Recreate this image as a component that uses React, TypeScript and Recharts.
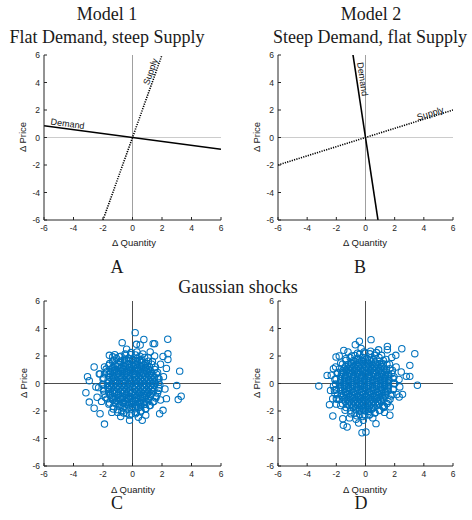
import React from "react";
import {
  ComposedChart,
  Line,
  Scatter,
  XAxis,
  YAxis,
  ReferenceLine,
  ReferenceDot,
} from "recharts";

const TICKS = [-6, -4, -2, 0, 2, 4, 6];
const AXIS = "#262626";
const BLUE = "#0072BD";

// Model 1: flat demand, steep supply
const demandA = [
  { x: -6, y: 0.857 },
  { x: 6, y: -0.857 },
];
const supplyA = [
  { x: -2, y: -6 },
  { x: 2, y: 6 },
];
// Model 2: steep demand, flat supply
const demandB = [
  { x: -0.857, y: 6 },
  { x: 0.857, y: -6 },
];
const supplyB = [
  { x: -6, y: -2 },
  { x: 6, y: 2 },
];

// Gaussian shocks, panel C
const coreC: [number, number][] = [
  [-0.55, 1.78], [-0.28, 1.84], [0.02, 1.76], [0.3, 1.82], [0.5, 1.7],
  [-1.05, 1.46], [-0.8, 1.55], [-0.52, 1.5], [-0.25, 1.43], [0.04, 1.52], [0.3, 1.47], [0.58, 1.56], [0.85, 1.45],
  [-1.32, 1.18], [-1.05, 1.24], [-0.78, 1.15], [-0.5, 1.22], [-0.22, 1.17], [0.06, 1.25], [0.33, 1.14], [0.6, 1.21], [0.88, 1.16], [1.12, 1.26],
  [-1.5, 0.88], [-1.22, 0.94], [-0.95, 0.86], [-0.68, 0.92], [-0.4, 0.85], [-0.12, 0.95], [0.15, 0.87], [0.42, 0.93], [0.7, 0.84], [0.97, 0.91], [1.25, 0.89],
  [-1.6, 0.62], [-1.33, 0.55], [-1.05, 0.64], [-0.78, 0.57], [-0.5, 0.63], [-0.23, 0.56], [0.05, 0.65], [0.32, 0.58], [0.6, 0.61], [0.87, 0.54], [1.14, 0.63], [1.4, 0.58],
  [-1.65, 0.28], [-1.38, 0.34], [-1.1, 0.26], [-0.82, 0.33], [-0.55, 0.27], [-0.27, 0.35], [0.0, 0.29], [0.27, 0.25], [0.55, 0.34], [0.82, 0.27], [1.1, 0.32], [1.38, 0.26],
  [-1.7, 0.02], [-1.42, -0.04], [-1.15, 0.05], [-0.87, -0.02], [-0.6, 0.04], [-0.32, -0.05], [-0.05, 0.03], [0.22, -0.03], [0.5, 0.05], [0.77, -0.04], [1.05, 0.02], [1.33, -0.02], [1.55, 0.04],
  [-1.68, -0.28], [-1.4, -0.34], [-1.12, -0.26], [-0.85, -0.33], [-0.57, -0.27], [-0.3, -0.35], [-0.02, -0.29], [0.25, -0.25], [0.53, -0.33], [0.8, -0.27], [1.08, -0.34], [1.35, -0.3],
  [-1.62, -0.58], [-1.35, -0.64], [-1.07, -0.56], [-0.8, -0.63], [-0.52, -0.57], [-0.25, -0.65], [0.03, -0.59], [0.3, -0.55], [0.58, -0.63], [0.85, -0.57], [1.12, -0.62], [1.38, -0.6],
  [-1.52, -0.88], [-1.25, -0.94], [-0.97, -0.86], [-0.7, -0.93], [-0.42, -0.87], [-0.15, -0.95], [0.13, -0.89], [0.4, -0.85], [0.68, -0.93], [0.95, -0.87], [1.22, -0.92],
  [-1.35, -1.18], [-1.08, -1.25], [-0.8, -1.16], [-0.52, -1.23], [-0.25, -1.17], [0.03, -1.25], [0.3, -1.15], [0.58, -1.22], [0.85, -1.18], [1.1, -1.24],
  [-1.12, -1.47], [-0.85, -1.55], [-0.58, -1.46], [-0.3, -1.53], [-0.03, -1.48], [0.25, -1.55], [0.52, -1.46], [0.8, -1.52],
  [-0.65, -1.78], [-0.38, -1.85], [-0.1, -1.76], [0.18, -1.83], [0.42, -1.74],
];
const innerC: [number, number][] = [
  [-0.8, 1.63], [-0.52, 1.68], [-0.24, 1.62], [0.04, 1.67], [0.32, 1.64], [0.6, 1.69],
  [-1.18, 1.33], [-0.9, 1.38], [-0.62, 1.32], [-0.34, 1.37], [-0.06, 1.34], [0.22, 1.39], [0.5, 1.31], [0.78, 1.36], [1.0, 1.33],
  [-1.4, 1.07], [-1.12, 1.02], [-0.84, 1.08], [-0.56, 1.03], [-0.28, 1.06], [0.0, 1.01], [0.28, 1.08], [0.56, 1.04], [0.84, 1.07], [1.12, 1.02],
  [-1.52, 0.73], [-1.24, 0.78], [-0.96, 0.72], [-0.68, 0.77], [-0.4, 0.74], [-0.12, 0.79], [0.16, 0.71], [0.44, 0.76], [0.72, 0.73], [1.0, 0.78], [1.28, 0.74],
  [-1.56, 0.47], [-1.28, 0.42], [-1.0, 0.48], [-0.72, 0.43], [-0.44, 0.46], [-0.16, 0.41], [0.12, 0.48], [0.4, 0.44], [0.68, 0.47], [0.96, 0.42], [1.24, 0.46], [1.48, 0.43],
  [-1.58, 0.13], [-1.3, 0.18], [-1.02, 0.12], [-0.74, 0.17], [-0.46, 0.14], [-0.18, 0.19], [0.1, 0.11], [0.38, 0.16], [0.66, 0.13], [0.94, 0.18], [1.22, 0.14], [1.46, 0.17],
  [-1.56, -0.17], [-1.28, -0.12], [-1.0, -0.18], [-0.72, -0.13], [-0.44, -0.16], [-0.16, -0.11], [0.12, -0.18], [0.4, -0.14], [0.68, -0.17], [0.96, -0.12], [1.24, -0.16], [1.48, -0.13],
  [-1.54, -0.43], [-1.26, -0.48], [-0.98, -0.42], [-0.7, -0.47], [-0.42, -0.44], [-0.14, -0.49], [0.14, -0.41], [0.42, -0.46], [0.7, -0.43], [0.98, -0.48], [1.26, -0.44], [1.46, -0.47],
  [-1.5, -0.77], [-1.22, -0.72], [-0.94, -0.78], [-0.66, -0.73], [-0.38, -0.76], [-0.1, -0.71], [0.18, -0.78], [0.46, -0.74], [0.74, -0.77], [1.02, -0.72], [1.28, -0.76],
  [-1.4, -1.03], [-1.12, -1.08], [-0.84, -1.02], [-0.56, -1.07], [-0.28, -1.04], [0.0, -1.09], [0.28, -1.01], [0.56, -1.06], [0.84, -1.03], [1.1, -1.08],
  [-1.2, -1.37], [-0.92, -1.32], [-0.64, -1.38], [-0.36, -1.33], [-0.08, -1.36], [0.2, -1.31], [0.48, -1.38], [0.76, -1.34], [0.98, -1.36],
  [-0.84, -1.63], [-0.56, -1.68], [-0.28, -1.62], [0.0, -1.67], [0.28, -1.64], [0.56, -1.69],
];
const edgeC: [number, number][] = [
  [1.78, 0.08], [1.74, 0.4], [1.62, 0.7], [1.5, 1.02], [1.3, 1.4], [1.08, 1.62], [0.82, 1.9], [0.5, 1.98], [0.2, 2.08],
  [-0.12, 2.1], [-0.45, 2.06], [-0.78, 1.98], [-1.08, 1.82], [-1.35, 1.6], [-1.6, 1.32], [-1.78, 1.05], [-1.9, 0.7], [-2.0, 0.35],
  [-2.02, -0.05], [-1.98, -0.4], [-1.92, -0.78], [-1.72, -1.12], [-1.55, -1.42], [-1.3, -1.68], [-1.02, -1.9], [-0.72, -2.05], [-0.4, -2.16],
  [-0.08, -2.2], [0.26, -2.1], [0.58, -1.98], [0.88, -1.82], [1.15, -1.6], [1.38, -1.34], [1.58, -1.05], [1.7, -0.7], [1.8, -0.35],
];
const fringeC: [number, number][] = [
  [-1.9, 1.2], [-1.75, 0.85], [-1.95, 0.4], [-2.0, -0.1], [-1.95, -0.55], [-1.85, -1.0], [-1.6, -1.5], [-1.3, -1.85],
  [-1.0, -2.1], [-0.6, -2.15], [-0.2, -2.3], [0.2, -2.2], [0.55, -2.05], [0.9, -1.85], [1.2, -1.6], [1.45, -1.3],
  [1.6, -0.95], [1.75, -0.5], [1.85, -0.1], [1.8, 0.35], [1.7, 0.8], [1.55, 1.2], [1.35, 1.6], [1.05, 1.9],
  [0.7, 2.15], [0.3, 2.3], [-0.1, 2.25], [-0.5, 2.15], [-0.9, 1.95], [-1.25, 1.7], [-1.55, 1.45],
  [-2.2, 0.7], [-2.3, -0.3], [-2.1, -1.3], [-1.4, -2.1], [0.9, -2.3], [1.9, -1.2], [2.1, 0.5], [1.9, 1.4],
  [1.2, 2.3], [-0.4, 2.5], [-1.2, 2.1], [2.2, -0.4], [0.4, -2.45], [-0.8, -2.4], [-2.4, -1.0], [1.5, 2.0], [2.3, 1.1],
];
const outerC: [number, number][] = [
  [0.18, 3.7], [2.39, 3.22], [0.77, 3.2], [-0.7, 2.97], [1.4, 2.9], [0.27, 2.85], [0.52, 2.8], [1.5, 2.9],
  [3.2, 0.9], [-2.6, 1.2], [-3.05, 0.5], [-2.93, 0.2], [-3.16, -0.67], [-2.93, -1.35], [-2.6, -1.8], [-2.2, -2.2],
  [-1.9, -2.95], [0.66, -2.68], [-0.2, -2.68], [3.3, -0.93], [3.1, -1.17], [3.0, -0.15], [2.3, -1.1], [2.07, -1.95],
  [1.84, -2.2], [2.4, 2.16], [2.4, 1.75], [2.07, 1.97], [-2.25, 0.7], [-2.48, -0.25], [-1.57, 2.05], [-1.34, 1.94],
];

// Gaussian shocks, panel D
const coreD: [number, number][] = [
  [-0.5, 1.83], [-0.2, 1.9], [0.1, 1.8], [0.38, 1.87],
  [-1.0, 1.52], [-0.72, 1.6], [-0.45, 1.5], [-0.15, 1.58], [0.12, 1.49], [0.4, 1.57], [0.68, 1.5], [0.95, 1.6],
  [-1.35, 1.27], [-1.08, 1.2], [-0.8, 1.3], [-0.52, 1.22], [-0.25, 1.29], [0.02, 1.2], [0.3, 1.28], [0.57, 1.21], [0.85, 1.3], [1.12, 1.23],
  [-1.55, 0.93], [-1.27, 1.0], [-1.0, 0.91], [-0.72, 0.98], [-0.45, 0.9], [-0.17, 0.97], [0.1, 0.89], [0.38, 0.99], [0.65, 0.92], [0.93, 0.97], [1.2, 0.9], [1.42, 0.98],
  [-1.65, 0.67], [-1.38, 0.6], [-1.1, 0.69], [-0.83, 0.61], [-0.55, 0.68], [-0.28, 0.6], [0.0, 0.69], [0.27, 0.62], [0.55, 0.67], [0.82, 0.59], [1.1, 0.68], [1.37, 0.61], [1.58, 0.66],
  [-1.7, 0.33], [-1.43, 0.39], [-1.15, 0.3], [-0.88, 0.38], [-0.6, 0.31], [-0.33, 0.39], [-0.05, 0.32], [0.22, 0.38], [0.5, 0.3], [0.77, 0.37], [1.05, 0.31], [1.32, 0.39], [1.6, 0.33],
  [-1.75, 0.03], [-1.48, 0.09], [-1.2, 0.0], [-0.93, 0.08], [-0.65, 0.01], [-0.38, 0.09], [-0.1, 0.02], [0.17, 0.08], [0.45, 0.0], [0.72, 0.07], [1.0, 0.01], [1.27, 0.09], [1.55, 0.03],
  [-1.72, -0.27], [-1.45, -0.2], [-1.17, -0.29], [-0.9, -0.21], [-0.62, -0.28], [-0.35, -0.2], [-0.07, -0.28], [0.2, -0.22], [0.48, -0.29], [0.75, -0.21], [1.03, -0.27], [1.3, -0.2], [1.55, -0.26],
  [-1.68, -0.53], [-1.4, -0.6], [-1.13, -0.51], [-0.85, -0.59], [-0.58, -0.52], [-0.3, -0.6], [-0.03, -0.53], [0.25, -0.58], [0.52, -0.5], [0.8, -0.59], [1.07, -0.52], [1.35, -0.58], [1.55, -0.55],
  [-1.6, -0.87], [-1.32, -0.8], [-1.05, -0.89], [-0.77, -0.81], [-0.5, -0.88], [-0.22, -0.8], [0.05, -0.89], [0.33, -0.82], [0.6, -0.88], [0.88, -0.8], [1.15, -0.87], [1.38, -0.83],
  [-1.45, -1.13], [-1.18, -1.2], [-0.9, -1.11], [-0.63, -1.19], [-0.35, -1.12], [-0.08, -1.2], [0.2, -1.13], [0.47, -1.18], [0.75, -1.1], [1.02, -1.19], [1.25, -1.14],
  [-1.25, -1.47], [-0.97, -1.4], [-0.7, -1.49], [-0.42, -1.41], [-0.15, -1.48], [0.13, -1.4], [0.4, -1.49], [0.68, -1.42], [0.95, -1.47],
  [-0.85, -1.73], [-0.58, -1.8], [-0.3, -1.71], [-0.03, -1.79], [0.25, -1.72], [0.52, -1.78],
  [-0.4, -2.02], [-0.1, -1.97], [0.2, -2.03],
];
const innerD: [number, number][] = [
  [-0.82, 1.68], [-0.55, 1.73], [-0.27, 1.67], [0.0, 1.72], [0.28, 1.69], [0.55, 1.74],
  [-1.2, 1.38], [-0.93, 1.43], [-0.65, 1.37], [-0.38, 1.42], [-0.1, 1.39], [0.17, 1.44], [0.45, 1.36], [0.72, 1.41], [1.0, 1.38], [1.2, 1.43],
  [-1.45, 1.12], [-1.18, 1.07], [-0.9, 1.13], [-0.63, 1.08], [-0.35, 1.11], [-0.08, 1.06], [0.2, 1.13], [0.47, 1.09], [0.75, 1.12], [1.02, 1.07], [1.3, 1.11],
  [-1.6, 0.78], [-1.32, 0.83], [-1.05, 0.77], [-0.77, 0.82], [-0.5, 0.79], [-0.22, 0.84], [0.05, 0.76], [0.33, 0.81], [0.6, 0.78], [0.88, 0.83], [1.15, 0.79], [1.42, 0.82],
  [-1.68, 0.52], [-1.4, 0.47], [-1.13, 0.53], [-0.85, 0.48], [-0.58, 0.51], [-0.3, 0.46], [-0.03, 0.53], [0.25, 0.49], [0.52, 0.52], [0.8, 0.47], [1.07, 0.51], [1.35, 0.48], [1.56, 0.52],
  [-1.7, 0.18], [-1.42, 0.23], [-1.15, 0.17], [-0.87, 0.22], [-0.6, 0.19], [-0.32, 0.24], [-0.05, 0.16], [0.23, 0.21], [0.5, 0.18], [0.78, 0.23], [1.05, 0.19], [1.33, 0.22], [1.58, 0.18],
  [-1.72, -0.12], [-1.44, -0.07], [-1.17, -0.13], [-0.89, -0.08], [-0.62, -0.11], [-0.34, -0.06], [-0.07, -0.13], [0.21, -0.09], [0.48, -0.12], [0.76, -0.07], [1.03, -0.11], [1.31, -0.08], [1.56, -0.12],
  [-1.7, -0.38], [-1.42, -0.43], [-1.15, -0.37], [-0.87, -0.42], [-0.6, -0.39], [-0.32, -0.44], [-0.05, -0.36], [0.23, -0.41], [0.5, -0.38], [0.78, -0.43], [1.05, -0.39], [1.33, -0.42], [1.55, -0.38],
  [-1.65, -0.72], [-1.37, -0.67], [-1.1, -0.73], [-0.82, -0.68], [-0.55, -0.71], [-0.27, -0.66], [0.0, -0.73], [0.28, -0.69], [0.55, -0.72], [0.83, -0.67], [1.1, -0.71], [1.38, -0.68],
  [-1.55, -0.98], [-1.27, -1.03], [-1.0, -0.97], [-0.72, -1.02], [-0.45, -0.99], [-0.17, -1.04], [0.1, -0.96], [0.38, -1.01], [0.65, -0.98], [0.93, -1.03], [1.2, -0.99],
  [-1.38, -1.32], [-1.1, -1.27], [-0.83, -1.33], [-0.55, -1.28], [-0.28, -1.31], [0.0, -1.26], [0.27, -1.33], [0.55, -1.29], [0.82, -1.32], [1.08, -1.27],
  [-1.1, -1.58], [-0.83, -1.63], [-0.55, -1.57], [-0.28, -1.62], [0.0, -1.59], [0.27, -1.64], [0.55, -1.56], [0.8, -1.61],
  [-0.68, -1.86], [-0.4, -1.9], [-0.12, -1.85], [0.16, -1.91], [0.42, -1.87],
];
const edgeD: [number, number][] = [
  [1.92, -0.02], [1.9, 0.36], [1.8, 0.72], [1.66, 1.08], [1.47, 1.4], [1.22, 1.68], [0.93, 1.9], [0.62, 2.05], [0.3, 2.16],
  [-0.05, 2.2], [-0.4, 2.14], [-0.73, 2.04], [-1.05, 1.88], [-1.34, 1.68], [-1.58, 1.4], [-1.78, 1.08], [-1.93, 0.72], [-2.02, 0.35],
  [-2.05, -0.04], [-2.0, -0.44], [-1.92, -0.82], [-1.78, -1.15], [-1.58, -1.47], [-1.33, -1.75], [-1.03, -1.97], [-0.72, -2.15], [-0.4, -2.25],
  [-0.05, -2.3], [0.3, -2.24], [0.64, -2.12], [0.95, -1.96], [1.24, -1.74], [1.48, -1.46], [1.68, -1.14], [1.82, -0.8], [1.9, -0.42],
];
const fringeD: [number, number][] = [
  [-2.05, 1.2], [-1.9, 0.8], [-2.1, 0.3], [-2.2, -0.2], [-2.1, -0.7], [-1.95, -1.15], [-1.7, -1.6], [-1.4, -1.95],
  [-1.0, -2.2], [-0.6, -2.35], [-0.2, -2.4], [0.25, -2.3], [0.65, -2.15], [1.0, -1.95], [1.3, -1.65], [1.55, -1.3],
  [1.75, -0.9], [1.9, -0.45], [2.0, 0.0], [1.95, 0.5], [1.85, 0.95], [1.65, 1.4], [1.4, 1.75], [1.1, 2.05],
  [0.75, 2.25], [0.35, 2.35], [-0.1, 2.3], [-0.55, 2.2], [-0.95, 2.0], [-1.35, 1.8], [-1.7, 1.5],
  [-2.35, 0.6], [-2.4, -0.5], [-2.25, -1.1], [-1.1, -2.5], [0.5, -2.5], [1.3, -2.1], [2.15, -0.8], [2.3, 0.3],
  [2.1, 1.2], [1.8, 1.9], [0.9, 2.45], [-0.3, 2.55], [-1.2, 2.3], [-1.8, 2.0], [2.35, -0.25], [-0.65, -2.6], [1.7, -1.7], [-2.0, -1.5],
];
const outerD: [number, number][] = [
  [0.38, 3.19], [-0.42, 3.07], [-0.7, 2.82], [-1.49, 2.41], [2.49, 2.53], [3.38, 2.17], [3.04, 1.32], [3.04, 0.52],
  [2.8, 0.52], [3.56, -0.13], [-3.2, -0.18], [-2.63, 0.59], [-2.47, -1.54], [-2.24, -2.36], [-1.56, -2.56], [-1.52, -3.04],
  [-1.26, -3.16], [-0.24, -3.58], [0.03, -3.53], [-0.47, -2.87], [-0.15, -2.68], [1.67, -2.31], [1.17, -1.66], [2.54, -0.79],
  [2.31, -0.98], [2.45, 0.84], [2.08, 2.05], [1.5, 2.46], [-2.02, 1.93], [-2.2, 1.08], [-2.13, -0.5], [-2.0, -1.1],
  [0.72, -2.92], [1.5, 2.7],
];

const toPts = (...lists: [number, number][][]) =>
  lists.flat().map(([x, y]) => ({ x, y }));
const shocksC = toPts(coreC, innerC, edgeC, fringeC, outerC);
const shocksD = toPts(coreD, innerD, edgeD, fringeD, outerD);

const sans = "'Liberation Sans', Arial, sans-serif";
const serif = "'Liberation Serif', 'Times New Roman', serif";

function lineLabel(text: string, angle: number, dx: number, dy: number) {
  return (props: any) => {
    const vb = props.viewBox || {};
    const cx = (vb.x ?? 0) + (vb.width ?? 0) / 2 + dx;
    const cy = (vb.y ?? 0) + (vb.height ?? 0) / 2 + dy;
    return (
      <text
        x={0}
        y={0}
        transform={`translate(${cx},${cy}) rotate(${angle})`}
        textAnchor="middle"
        dominantBaseline="central"
        fontSize={9}
        fontFamily={sans}
        fill="#111"
      >
        {text}
      </text>
    );
  };
}

const circle = (p: any) => (
  <circle cx={p.cx} cy={p.cy} r={3.2} fill="none" stroke={BLUE} strokeWidth={1.05} />
);

type PanelProps = {
  left: number;
  top: number;
  margin: { top: number; right: number; bottom: number; left: number };
  vColor: string;
  hColor: string;
  zeroOnTop?: boolean;
  children: React.ReactNode;
};

function Panel({ left, top, margin, vColor, hColor, zeroOnTop, children }: PanelProps) {
  const zero = [
    <ReferenceLine key="h0" y={0} stroke={hColor} strokeWidth={1} />,
    <ReferenceLine key="v0" x={0} stroke={vColor} strokeWidth={1} />,
  ];
  return (
    <div style={{ position: "absolute", left, top }}>
      <ComposedChart width={236} height={250} margin={margin}>
        <XAxis
          type="number"
          dataKey="x"
          domain={[-6, 6]}
          ticks={TICKS}
          allowDataOverflow
          height={20}
          tickSize={-3}
          tickMargin={8}
          stroke={AXIS}
          tick={{ fill: AXIS, fontSize: 8.5, fontFamily: sans }}
        />
        <YAxis
          type="number"
          dataKey="y"
          domain={[-6, 6]}
          ticks={TICKS}
          allowDataOverflow
          width={20}
          tickSize={-3}
          tickMargin={7}
          stroke={AXIS}
          tick={{ fill: AXIS, fontSize: 8.5, fontFamily: sans }}
        />
        {!zeroOnTop && zero}
        {children}
        {zeroOnTop && zero}
      </ComposedChart>
    </div>
  );
}

const label = (
  text: string,
  cx: number,
  cy: number,
  size: number,
  family: string,
  rotate = 0
) => (
  <div
    style={{
      position: "absolute",
      left: cx,
      top: cy,
      transform: `translate(-50%, -50%) rotate(${rotate}deg)`,
      whiteSpace: "nowrap",
      fontSize: size,
      fontFamily: family,
      lineHeight: 0.85,
      color: "#1a1a1a",
    }}
  >
    {text}
  </div>
);

export default function App() {
  const mA = { top: 55, right: 15, bottom: 10, left: 24 };
  const mB = { top: 55, right: 19, bottom: 10, left: 22 };
  const mC = { top: 51, right: 15, bottom: 14, left: 24 };
  const mD = { top: 51, right: 19, bottom: 14, left: 22 };
  return (
    <div
      style={{
        position: "absolute",
        left: 0,
        top: 0,
        width: 472,
        height: 520,
        background: "#fff",
        overflow: "hidden",
      }}
    >
      <Panel left={0} top={0} margin={mA} vColor="#a0a0a0" hColor="#cccccc">
        <Line data={demandA} dataKey="y" stroke="#000" strokeWidth={1.6} dot={false} isAnimationActive={false} />
        <Line data={supplyA} dataKey="y" stroke="#000" strokeWidth={1.6} strokeDasharray="1.2 1.2" dot={false} isAnimationActive={false} />
        <ReferenceDot x={-4.4} y={0.629} r={0} fill="none" stroke="none" label={lineLabel("Demand", 7.6, 0, -5)} />
        <ReferenceDot x={1.56} y={4.68} r={0} fill="none" stroke="none" label={lineLabel("Supply", -70.3, -5, -1.5)} />
      </Panel>
      <Panel left={236} top={0} margin={mB} vColor="#a0a0a0" hColor="#cccccc">
        <Line data={demandB} dataKey="y" stroke="#000" strokeWidth={1.6} dot={false} isAnimationActive={false} />
        <Line data={supplyB} dataKey="y" stroke="#000" strokeWidth={1.6} strokeDasharray="1.2 1.2" dot={false} isAnimationActive={false} />
        <ReferenceDot x={-0.617} y={4.32} r={0} fill="none" stroke="none" label={lineLabel("Demand", 81.3, 6, 1)} />
        <ReferenceDot x={4.38} y={1.46} r={0} fill="none" stroke="none" label={lineLabel("Supply", -17.3, 1, -4)} />
      </Panel>
      <Panel left={0} top={250} margin={mC} vColor="#4d4d4d" hColor="#4d4d4d" zeroOnTop>
        <Scatter data={shocksC} dataKey="y" shape={circle} isAnimationActive={false} />
      </Panel>
      <Panel left={236} top={250} margin={mD} vColor="#4d4d4d" hColor="#4d4d4d" zeroOnTop>
        <Scatter data={shocksD} dataKey="y" shape={circle} isAnimationActive={false} />
      </Panel>

      {label("Model 1", 107, 15, 18, serif)}
      {label("Flat Demand, steep Supply", 107, 38, 18, serif)}
      {label("Model 2", 371, 15, 18, serif)}
      {label("Steep Demand, flat Supply", 370, 38, 18, serif)}
      {label("A", 117, 268, 18, serif)}
      {label("B", 360, 268, 18, serif)}
      {label("Gaussian shocks", 238, 288, 18, serif)}
      {label("C", 117, 504, 18, serif)}
      {label("D", 361, 504, 18, serif)}

      {label("Δ Quantity", 134, 243, 9.5, sans)}
      {label("Δ Quantity", 365, 243, 9.5, sans)}
      {label("Δ Quantity", 133, 490, 9.5, sans)}
      {label("Δ Quantity", 365, 490, 9.5, sans)}
      {label("Δ Price", 23, 137, 9.5, sans, -90)}
      {label("Δ Price", 257, 137, 9.5, sans, -90)}
      {label("Δ Price", 24, 383, 9.5, sans, -90)}
      {label("Δ Price", 257, 383, 9.5, sans, -90)}
    </div>
  );
}
